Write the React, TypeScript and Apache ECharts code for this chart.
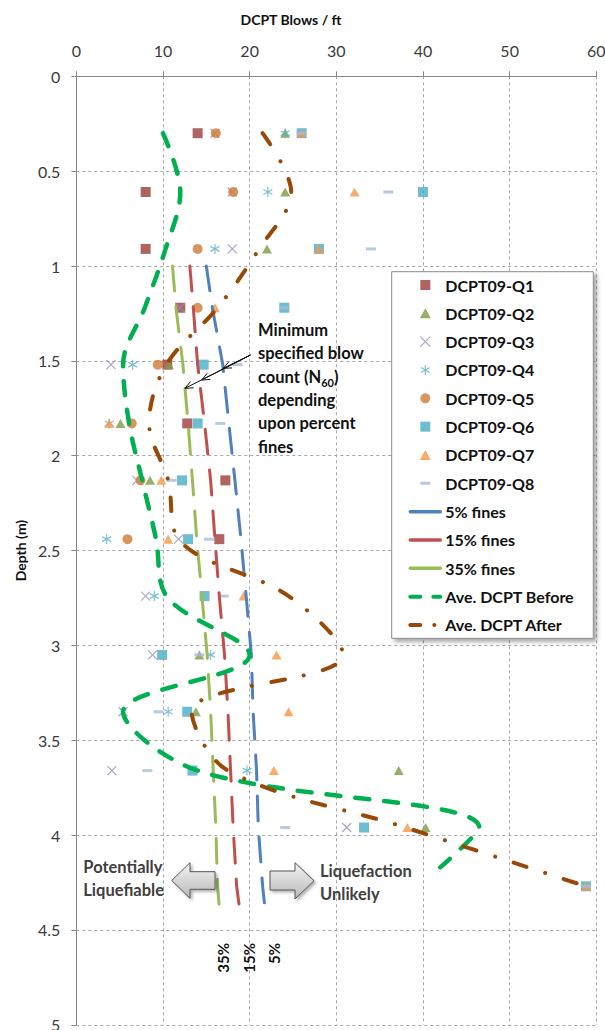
import React, { useEffect, useRef } from "react";
import * as echarts from "echarts";

// ---- Data ----
const depths = [0.3, 0.61, 0.91, 1.22, 1.52, 1.83, 2.13, 2.44, 2.74, 3.05, 3.35, 3.66, 3.96, 4.27];
const q1 = [14, 8, 8, 12, 10.5, 12.8, 17.2, 16.5, null, null, null, null, null, null];
const q2 = [24.1, 24.1, 22, null, 10.7, 5.1, 8.5, null, null, 14.2, 13.8, 37.2, 40.3, null];
const q3 = [16, 18, 18, 12, 4.0, null, 7.0, 11.8, 8.0, 8.8, 5.4, 4.1, 31.2, null];
const q4 = [24.1, 22.1, 16.0, null, 6.5, 3.8, null, 3.5, 9.0, 15.5, 10.6, 19.7, null, null];
const q5 = [16.1, 18.1, 14.0, 14.0, 9.4, 6.4, 7.4, 5.9, null, null, null, null, null, null];
const q6 = [26, 40, 28, 24, 14.7, 14.0, 12.2, 12.9, 14.8, 9.9, 12.8, 13.4, 33.2, 58.8];
const q7 = [26, 32.1, 28, 16.0, null, 3.8, 9.8, 10.6, 19.3, 23.1, 24.5, 22.8, 38.2, 58.8];
const q8 = [26, 36, 34, 24, 18.6, 16.6, 11.0, 15.3, 17.0, 14.2, 9.5, 8.2, 24.1, 58.8];

const fineDepths = [1.0, 1.22, 1.52, 1.83, 2.13, 2.44, 2.74, 3.05, 3.35, 3.66, 3.96, 4.27, 4.44];
const fines5 = [15.0, 15.7, 16.9, 17.6, 18.3, 19.0, 19.6, 20.2, 20.4, 20.8, 21.0, 21.5, 21.9];
const fines15 = [13.1, 13.5, 14.0, 14.8, 15.5, 16.0, 16.5, 17.1, 17.5, 17.8, 18.1, 18.5, 19.0];
const fines35 = [11.1, 11.5, 12.3, 12.9, 13.4, 13.9, 14.5, 15.1, 15.5, 15.8, 16.1, 16.3, 16.6];

const beforeDepths = [0.3, 0.61, 0.91, 1.22, 1.52, 1.83, 2.13, 2.44, 2.74, 3.05, 3.35, 3.66, 3.96, 4.17];
const beforeAvg = [10.0, 12.0, 10.3, 7.9, 5.4, 6.1, 7.6, 9.2, 10.4, 20.0, 5.4, 14.0, 46.5, 42.0];
const afterAvg = [21.5, 24.8, 21.1, 16.3, 10.4, 8.4, 10.6, 11.8, 24.5, 30.8, 13.3, 17.5, 38.0, 58.8];

const xTicks = { min: 0, max: 60, interval: 10 };
const yTicks = { min: 0, max: 5, interval: 0.5 };

// ---- Styling ----
const FONT = "Lato, 'Open Sans', sans-serif";
const SQ = "path://M0,0H10V10H0Z";
const TRI = "path://M5,0L10,9H0Z";
const XS = "path://M0,0L10,10M10,0L0,10";
const AST = "path://M5,0V10M0.67,2.5L9.33,7.5M0.67,7.5L9.33,2.5";
const DASH = "path://M0,0H10V3H0Z";
const DASH_LEGEND = "path://M0,0M30,10M10,3.5H20V6.5H10Z";

function pairs(vals: (number | null)[], ds: number[]) {
  const out: number[][] = [];
  vals.forEach((v, i) => {
    if (v !== null && v !== undefined) out.push([v, ds[i]]);
  });
  return out;
}

function arrow(sx: number, sy: number, ex: number, ey: number) {
  const dx = ex - sx;
  const dy = ey - sy;
  const len = Math.sqrt(dx * dx + dy * dy);
  const ux = dx / len;
  const uy = dy / len;
  const nx = -uy;
  const ny = ux;
  const bx = ex - ux * 8;
  const by = ey - uy * 8;
  return [
    { type: "line", z: 20, shape: { x1: sx, y1: sy, x2: ex, y2: ey }, style: { stroke: "#111", lineWidth: 1 } },
    {
      type: "polyline",
      z: 20,
      shape: { points: [[bx + nx * 3.5, by + ny * 3.5], [ex, ey], [bx - nx * 3.5, by - ny * 3.5]] },
      style: { stroke: "#111", lineWidth: 1, fill: "none" },
    },
  ];
}

export default function App() {
  const ref = useRef<HTMLDivElement>(null);
  useEffect(() => {
    document.body.style.margin = "0";
    const chart = echarts.init(ref.current as HTMLDivElement, undefined, { renderer: "svg" });

    const scatterDefs: any[] = [
      { name: "DCPT09-Q1", vals: q1, symbol: SQ, size: 10, color: "#9C3D3B" },
      { name: "DCPT09-Q2", vals: q2, symbol: TRI, size: [10, 9], color: "#7E9B45" },
      { name: "DCPT09-Q3", vals: q3, symbol: XS, size: 9, stroke: "#9A8DBB" },
      { name: "DCPT09-Q4", vals: q4, symbol: AST, size: [9, 10], stroke: "#5AAFC7" },
      { name: "DCPT09-Q5", vals: q5, symbol: "circle", size: 10, color: "#D07B38" },
      { name: "DCPT09-Q6", vals: q6, symbol: SQ, size: 10, color: "#4BACC6" },
      { name: "DCPT09-Q7", vals: q7, symbol: TRI, size: [10, 9], color: "#F79646" },
      { name: "DCPT09-Q8", vals: q8, symbol: DASH, size: [10, 3], color: "#A9BCDB" },
    ];

    const scatterSeries = scatterDefs.map((d) => ({
      type: "scatter",
      name: d.name,
      data: pairs(d.vals, depths),
      symbol: d.symbol,
      symbolSize: d.size,
      silent: true,
      itemStyle: d.stroke
        ? { color: "rgba(0,0,0,0)", borderColor: d.stroke, borderWidth: 1.2 }
        : { color: d.color, borderWidth: 0 },
    }));

    const fineLine = (name: string, vals: number[], color: string) => ({
      type: "line",
      name,
      data: pairs(vals, fineDepths),
      symbol: "none",
      silent: true,
      lineStyle: { color, width: 3, type: [25, 16], cap: "round" },
      itemStyle: { color },
    });

    const hiddenSym = { color: "rgba(0,0,0,0)", borderWidth: 0, opacity: 0 };
    const legendData: any[] = [
      { name: "DCPT09-Q1" },
      { name: "DCPT09-Q2" },
      { name: "DCPT09-Q3", itemStyle: { borderWidth: 1.2 } },
      { name: "DCPT09-Q4", itemStyle: { borderWidth: 1.2 } },
      { name: "DCPT09-Q5" },
      { name: "DCPT09-Q6" },
      { name: "DCPT09-Q7" },
      { name: "DCPT09-Q8", icon: DASH_LEGEND },
      { name: "5% fines", itemStyle: hiddenSym, lineStyle: { width: 3.5, type: "solid", cap: "round" } },
      { name: "15% fines", itemStyle: hiddenSym, lineStyle: { width: 3.5, type: "solid", cap: "round" } },
      { name: "35% fines", itemStyle: hiddenSym, lineStyle: { width: 3.5, type: "solid", cap: "round" } },
      { name: "Ave. DCPT Before", itemStyle: hiddenSym, lineStyle: { width: 4, type: [10, 13], cap: "round" } },
      { name: "Ave. DCPT After", itemStyle: hiddenSym, lineStyle: { width: 4, type: [10, 14, 0.1, 10], cap: "round" } },
    ];

    const annText = {
      type: "text",
      z: 20,
      x: 258,
      y: 318.5,
      style: {
        text: "{a|Minimum}\n{a|specified blow}\n{a|count (N}{s|60}{a|)}\n{a|depending}\n{a|upon percent}\n{a|fines}",
        align: "left",
        verticalAlign: "top",
        fill: "#111",
        rich: {
          a: { fontFamily: FONT, fontWeight: "bold", fontSize: 16.5, lineHeight: 23.3, fill: "#111" },
          s: { fontFamily: FONT, fontWeight: "bold", fontSize: 11, lineHeight: 14.5, verticalAlign: "bottom", fill: "#111" },
        },
      },
    };

    const blockGrad = {
      type: "linear",
      x: 0,
      y: 0,
      x2: 0,
      y2: 1,
      colorStops: [
        { offset: 0, color: "#f4f4f4" },
        { offset: 1, color: "#b8b8b8" },
      ],
    };

    const graphics: any[] = [
      {
        type: "text",
        z: 20,
        x: 291,
        y: 19,
        style: { text: "DCPT Blows / ft", align: "center", verticalAlign: "middle", fontFamily: FONT, fontWeight: "bold", fontSize: 14, fill: "#111" },
      },
      {
        type: "rect",
        z: 3,
        shape: { x: 391.7, y: 271.7, width: 201.6, height: 366.6 },
        style: { fill: "#fff", stroke: "#8c8c8c", lineWidth: 1, shadowBlur: 4, shadowOffsetX: 3, shadowOffsetY: 3, shadowColor: "rgba(0,0,0,0.35)" },
      },
      annText,
      ...arrow(250.5, 355, 223.3, 368.3),
      ...arrow(250.5, 355, 201.7, 380),
      ...arrow(250.5, 355, 185, 388.3),
      {
        type: "polygon",
        z: 20,
        shape: { points: [[171.7, 880.5], [190, 862.7], [190, 871.7], [215, 871.7], [215, 889.3], [190, 889.3], [190, 898.3]] },
        style: { fill: blockGrad, stroke: "#555", lineWidth: 1, shadowBlur: 3, shadowOffsetX: 2, shadowOffsetY: 2, shadowColor: "rgba(0,0,0,0.3)" },
      },
      {
        type: "polygon",
        z: 20,
        shape: { points: [[270, 871], [295, 871], [295, 862.7], [314, 880.8], [295, 899], [295, 890], [270, 890]] },
        style: { fill: blockGrad, stroke: "#555", lineWidth: 1, shadowBlur: 3, shadowOffsetX: 2, shadowOffsetY: 2, shadowColor: "rgba(0,0,0,0.3)" },
      },
      {
        type: "text",
        z: 20,
        x: 83.3,
        y: 855.4,
        style: { text: "Potentially\nLiquefiable", align: "left", verticalAlign: "top", fontFamily: FONT, fontWeight: "bold", fontSize: 16.5, lineHeight: 23.3, fill: "#404040" },
      },
      {
        type: "text",
        z: 20,
        x: 320,
        y: 859,
        style: { text: "Liquefaction\nUnlikely", align: "left", verticalAlign: "top", fontFamily: FONT, fontWeight: "bold", fontSize: 16.5, lineHeight: 23.3, fill: "#404040" },
      },
      ...[
        { t: "35%", x: 223.3 },
        { t: "15%", x: 249 },
        { t: "5%", x: 274.3 },
      ].map((p) => ({
        type: "text",
        z: 20,
        x: p.x,
        y: 943,
        rotation: Math.PI / 2,
        style: { text: p.t, align: "right", verticalAlign: "middle", fontFamily: FONT, fontWeight: "bold", fontSize: 15, fill: "#111" },
      })),
    ];

    const option: any = {
      animation: false,
      textStyle: { fontFamily: FONT },
      grid: { left: 76.3, top: 76.3, width: 520, height: 948.5, containLabel: false, outerBoundsMode: "none" },
      xAxis: {
        type: "value",
        position: "top",
        min: xTicks.min,
        max: xTicks.max,
        interval: xTicks.interval,
        axisLine: { show: true, onZero: false, lineStyle: { color: "#868686", width: 1 } },
        axisTick: { show: true, length: 5, lineStyle: { color: "#868686" } },
        axisLabel: { margin: 18, fontSize: 16, color: "#3b3b3b", fontFamily: FONT },
        splitLine: { show: true, lineStyle: { color: "#a6a6a6", type: [3, 3], width: 1 } },
      },
      yAxis: {
        type: "value",
        inverse: true,
        min: yTicks.min,
        max: yTicks.max,
        interval: yTicks.interval,
        name: "Depth (m)",
        nameLocation: "middle",
        nameGap: 48,
        nameTextStyle: { fontFamily: FONT, fontWeight: "bold", fontSize: 14, color: "#111" },
        axisLine: { show: true, onZero: false, lineStyle: { color: "#868686", width: 1 } },
        axisTick: { show: true, length: 5, lineStyle: { color: "#868686" } },
        axisLabel: { margin: 16, fontSize: 16, color: "#3b3b3b", fontFamily: FONT },
        splitLine: { show: true, lineStyle: { color: "#a6a6a6", type: [3, 3], width: 1 } },
      },
      legend: {
        orient: "vertical",
        left: 408.3,
        top: 277,
        padding: 0,
        itemWidth: 30,
        itemHeight: 10,
        itemGap: 12.33,
        selectedMode: false,
        textStyle: { fontFamily: FONT, fontWeight: "bold", fontSize: 16, lineHeight: 16, color: "#111" },
        data: legendData,
      },
      graphic: { elements: graphics },
      series: [
        ...scatterSeries,
        fineLine("5% fines", fines5, "#4F81BD"),
        fineLine("15% fines", fines15, "#C0504D"),
        fineLine("35% fines", fines35, "#9BBB59"),
        {
          type: "line",
          name: "Ave. DCPT Before",
          data: pairs(beforeAvg, beforeDepths),
          symbol: "none",
          smooth: 0.35,
          silent: true,
          lineStyle: { color: "#00B050", width: 4.5, type: [14, 15], cap: "round" },
          itemStyle: { color: "#00B050" },
        },
        {
          type: "line",
          name: "Ave. DCPT After",
          data: pairs(afterAvg, depths),
          symbol: "none",
          smooth: 0.35,
          silent: true,
          lineStyle: { color: "#984807", width: 4, type: [13.6, 19.7, 0.1, 19.2], cap: "round" },
          itemStyle: { color: "#984807" },
        },
      ],
    };

    chart.setOption(option);
    return () => chart.dispose();
  }, []);
  return <div ref={ref} style={{ width: 605, height: 1030 }} />;
}
